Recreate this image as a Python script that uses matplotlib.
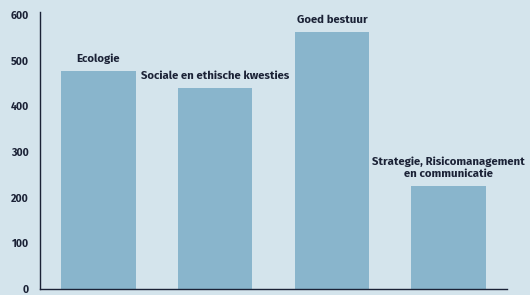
import matplotlib
matplotlib.use("Agg")
import matplotlib.pyplot as plt

categories = ["Ecologie", "Sociale en ethische kwesties", "Goed bestuur",
              "Strategie, Risicomanagement\nen communicatie"]
values = [477, 440, 562, 225]
yticks = [0, 100, 200, 300, 400, 500, 600]

bg = "#d4e4ec"
bar_color = "#89b5cc"
text_color = "#1b2236"

plt.rcParams['font.family'] = ['Fira Sans', 'Noto Sans', 'DejaVu Sans']

fig = plt.figure(figsize=(5.30, 2.95), dpi=100, facecolor=bg)
ax = fig.add_axes([40/530, 6/295, 467/530, 277/295])
ax.set_facecolor(bg)

x = list(range(len(categories)))
ax.bar(x, values, width=0.64, color=bar_color)
for xi, v, c in zip(x, values, categories):
    ax.annotate(c, (xi, v), xytext=(0, 5), textcoords="offset points",
                ha="center", va="bottom", fontsize=8.2, fontweight="bold",
                color=text_color, linespacing=1.2)

ax.set_xlim(-0.5, 3.5)
ax.set_ylim(0, 606)
ax.set_yticks(yticks)
ax.set_yticklabels([str(t) for t in yticks], fontsize=7.6, fontweight="bold", color=text_color)
ax.set_xticks([])
ax.tick_params(axis="y", length=0, pad=8)
for s in ["top", "right"]:
    ax.spines[s].set_visible(False)
for s in ["left", "bottom"]:
    ax.spines[s].set_color(text_color)
    ax.spines[s].set_linewidth(1.0)

fig.savefig("out.png", dpi=100, facecolor=bg)
